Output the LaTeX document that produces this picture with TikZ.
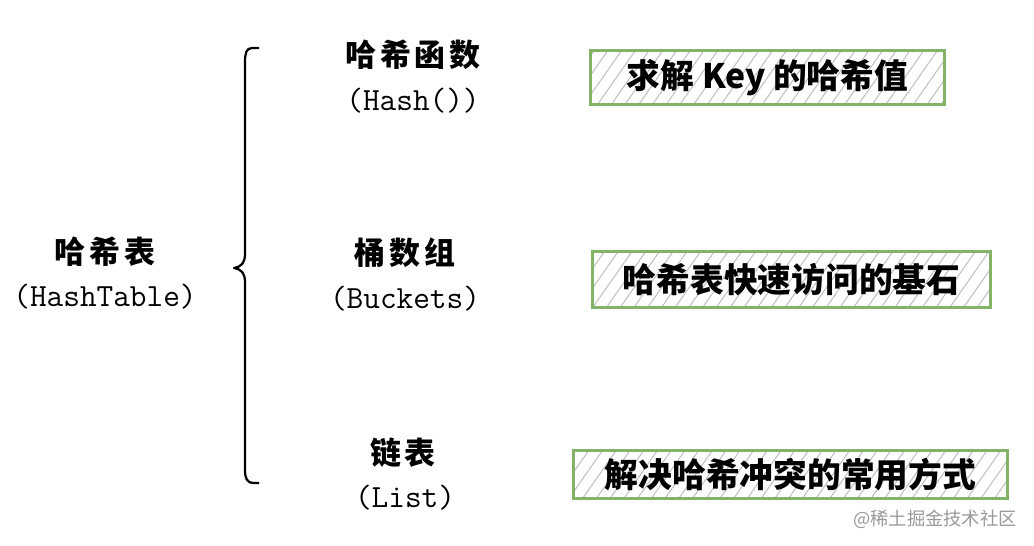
\documentclass[tikz,border=0pt]{standalone}
\usepackage{fontspec}
\newfontfamily\cjk{Noto Sans CJK SC}
\newfontfamily\cjkwide[LetterSpace=12]{Noto Sans CJK SC}
\usetikzlibrary{positioning, patterns.meta}
\definecolor{boxgreen}{HTML}{82B366}
\definecolor{hatchgray}{HTML}{BDBDBD}

\begin{document}
\begin{tikzpicture}[x=0.025cm, y=-0.025cm,
  title/.style={font=\cjkwide\bfseries\fontsize{22}{26}\selectfont, inner sep=0pt},
  sub/.style={font=\ttfamily\fontsize{23}{26}\selectfont, inner sep=0pt},
  note/.style={draw=boxgreen, line width=2pt,
    pattern={Lines[angle=55,distance=8pt,line width=0.7pt]}, pattern color=hatchgray,
    inner sep=0pt, font=\cjk\bfseries\fontsize{24}{28}\selectfont}]
\useasboundingbox (0,0) rectangle (1034,546);

\node [title](hashtab) at (105,252) {哈希表};
\node [sub](hashtab en) at (105,297) {(HashTable)};

% the brace
\draw [line width=1.6pt, line join=round] (259,48) -- (252,48)
  .. controls (246,48) and (245,54) .. (245,62) -- (245,254)
  .. controls (245,263) and (241,267) .. (234,268)
  .. controls (241,269) and (245,273) .. (245,282) -- (245,470)
  .. controls (245,478) and (247,483) .. (253,483) -- (259,483);

\node [title](hashfunc) at (413,55) {哈希函数};
\node [sub](hashfunc en) at (413,101) {(Hash())};
\node [title](buckets) at (405,253) {桶数组};
\node [sub](buckets en) at (405,299) {(Buckets)};
\node [title](list) at (403,453) {链表};
\node [sub](list en) at (405,498) {(List)};

\node [note, minimum width=8.83cm, minimum height=1.35cm](key box) at (767.5,77.5) {求解 Key 的哈希值};
\node [note, minimum width=9.93cm, minimum height=1.38cm](base box) at (791.5,279.5) {哈希表快速访问的基石};
\node [note, minimum width=10.83cm, minimum height=1.18cm](clash box) at (790.5,474.5) {解决哈希冲突的常用方式};

\node [font=\cjk\fontsize{13}{15}\selectfont, text=gray!80, inner sep=0pt](mark) at (935,519) {@稀土掘金技术社区};
\end{tikzpicture}
\end{document}
